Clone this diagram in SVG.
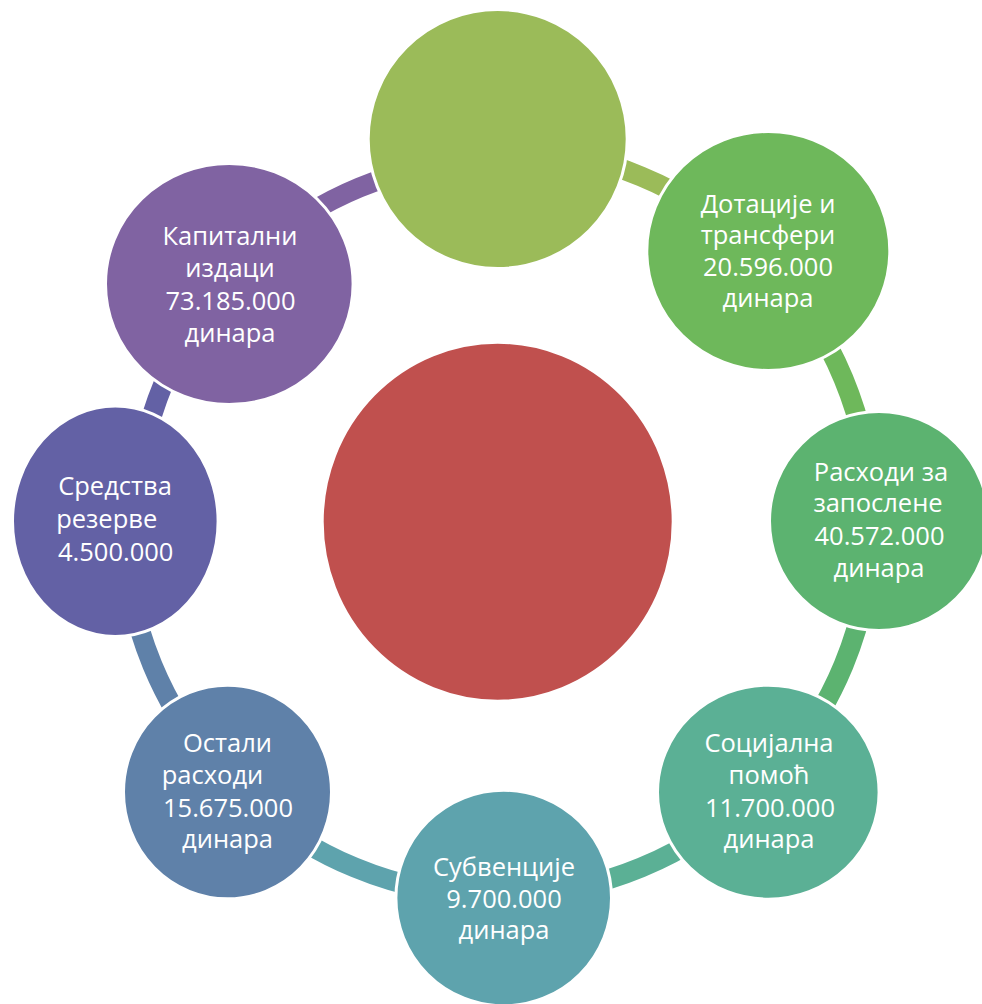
<svg xmlns="http://www.w3.org/2000/svg" width="982" height="1004" viewBox="0 0 982 1004">
<style>
.arc{fill:none;stroke-width:20;stroke-linecap:butt}
.node{stroke:#ffffff;stroke-width:3}
.lbl{font-family:"Open Sans","Liberation Sans",sans-serif;font-size:25.5px;fill:#ffffff;text-anchor:middle}
</style>
<rect width="982" height="1004" fill="#ffffff"/>
<g id="connectors">
<path class="arc" stroke="#9BBB59" d="M 498 148 A 374 374 0 0 1 762.5 257.5"/>
<path class="arc" stroke="#6EB85B" d="M 762.5 257.5 A 374 374 0 0 1 872 522"/>
<path class="arc" stroke="#5CB370" d="M 872 522 A 374 374 0 0 1 762.5 786.5"/>
<path class="arc" stroke="#5BB095" d="M 762.5 786.5 A 374 374 0 0 1 498 896"/>
<path class="arc" stroke="#5EA3AD" d="M 498 896 A 374 374 0 0 1 233.5 786.5"/>
<path class="arc" stroke="#5F81A9" d="M 233.5 786.5 A 374 374 0 0 1 124 522"/>
<path class="arc" stroke="#6361A5" d="M 136 522 A 362 362 0 0 1 242 266"/>
<path class="arc" stroke="#8063A2" d="M 242 266 A 362 362 0 0 1 498 160"/>
</g>
<g id="center">
<ellipse class="node" cx="497.7" cy="521.7" rx="175.5" ry="179.5" fill="#C0504E"/>
</g>
<g id="top">
<ellipse class="node" cx="497.7" cy="139" rx="129.5" ry="129.5" fill="#9BBB59"/>
</g>
<g id="dotacije">
<ellipse class="node" cx="768.3" cy="251" rx="121.5" ry="119.5" fill="#6EB85B"/>
<text class="lbl"><tspan x="768" y="213">Дотације и</tspan><tspan x="768" y="244">трансфери</tspan><tspan x="768" y="276">20.596.000</tspan><tspan x="768" y="307">динара</tspan></text>
</g>
<g id="rashodi">
<ellipse class="node" cx="879" cy="521" rx="109.5" ry="109.5" fill="#5CB370"/>
<text class="lbl"><tspan x="881" y="481">Расходи за</tspan><tspan x="878" y="512">запослене</tspan><tspan x="879.5" y="545">40.572.000</tspan><tspan x="879" y="577">динара</tspan></text>
</g>
<g id="socijalna">
<ellipse class="node" cx="768.3" cy="792.2" rx="110.8" ry="107" fill="#5BB095"/>
<text class="lbl"><tspan x="769" y="752">Социјална</tspan><tspan x="769" y="784">помоћ</tspan><tspan x="770" y="817">11.700.000</tspan><tspan x="769" y="848">динара</tspan></text>
</g>
<g id="subvencije">
<ellipse class="node" cx="503.7" cy="898" rx="107.8" ry="107.8" fill="#5EA3AD"/>
<text class="lbl"><tspan x="504" y="876">Субвенције</tspan><tspan x="504" y="908">9.700.000</tspan><tspan x="504" y="939">динара</tspan></text>
</g>
<g id="ostali">
<ellipse class="node" cx="227.5" cy="792" rx="104" ry="106.8" fill="#5F81A9"/>
<text class="lbl"><tspan x="227.5" y="752">Остали</tspan><tspan x="212.5" y="784">расходи</tspan><tspan x="228" y="817">15.675.000</tspan><tspan x="227.5" y="848">динара</tspan></text>
</g>
<g id="sredstva">
<ellipse class="node" cx="115.3" cy="521.3" rx="102.8" ry="115.2" fill="#6361A5"/>
<text class="lbl"><tspan x="115" y="495">Средства</tspan><tspan x="106.7" y="528">резерве</tspan><tspan x="115.7" y="561">4.500.000</tspan></text>
</g>
<g id="kapitalni">
<ellipse class="node" cx="229.3" cy="284" rx="123.8" ry="120.5" fill="#8063A2"/>
<text class="lbl"><tspan x="230" y="245">Капитални</tspan><tspan x="230" y="277">издаци</tspan><tspan x="230.5" y="310">73.185.000</tspan><tspan x="230" y="342">динара</tspan></text>
</g>
</svg>
